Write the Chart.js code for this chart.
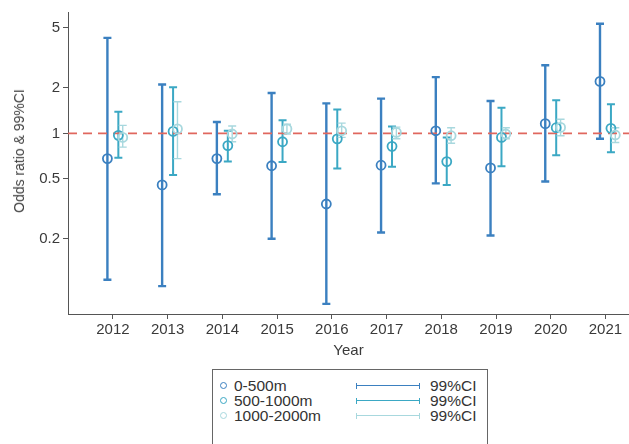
<!DOCTYPE html>
<html>
<head>
<meta charset="utf-8">
<script src="https://cdn.jsdelivr.net/npm/chart.js@4"></script>
<style>
  body { margin: 0; background: #fff; font-family: "Liberation Sans", Arial, sans-serif; }
  #wrap { position: relative; width: 629px; height: 444px; overflow: hidden; }
  #box { position: absolute; left: 0; top: 0; width: 629px; height: 360px; }
  #ytitle { position: absolute; left: 19px; top: 151px; transform: translate(-50%, -50%) rotate(-90deg); white-space: nowrap; font-size: 14px; color: #444; }
  #legend { position: absolute; left: 212px; top: 369px; width: 274px; height: 90px; border: 1px solid #666; }
  .row { position: absolute; left: 0; width: 274px; height: 16px; font-size: 15.5px; color: #333; }
  .dot { position: absolute; left: 7px; top: 4px; width: 5px; height: 5px; border-radius: 50%; border: 1.8px solid; }
  .lab { position: absolute; left: 21px; top: -1px; white-space: nowrap; }
  .bar { position: absolute; left: 143px; top: 5px; width: 62px; height: 6px; border-left: 1.5px solid; border-right: 1.5px solid; }
  .bar::after { content: ""; position: absolute; left: 0; right: 0; top: 2px; border-top: 1.6px solid; border-color: inherit; }
  .ci { position: absolute; left: 217px; top: -1px; }
</style>
</head>
<body>
<div id="wrap">
  <div id="box"><canvas id="chart"></canvas></div>
  <div id="ytitle">Odds ratio &amp; 99%CI</div>
  <div id="legend"></div>
</div>
<script>
const years = [2012, 2013, 2014, 2015, 2016, 2017, 2018, 2019, 2020, 2021];
const yTicks = [0.2, 0.5, 1, 2, 5];
const seriesNames = ['0-500m', '500-1000m', '1000-2000m'];

// 0-500m
const or1 = [0.68, 0.455, 0.68, 0.61, 0.34, 0.615, 1.04, 0.59, 1.16, 2.21];
const lo1 = [0.107, 0.097, 0.395, 0.20, 0.074, 0.22, 0.466, 0.21, 0.48, 0.92];
const hi1 = [4.3, 2.11, 1.19, 1.85, 1.58, 1.70, 2.36, 1.64, 2.83, 5.33];
// 500-1000m
const or2 = [0.97, 1.03, 0.83, 0.88, 0.92, 0.82, 0.65, 0.94, 1.09, 1.08];
const lo2 = [0.69, 0.53, 0.65, 0.645, 0.585, 0.60, 0.455, 0.605, 0.715, 0.75];
const hi2 = [1.39, 2.02, 1.04, 1.22, 1.44, 1.11, 0.94, 1.48, 1.66, 1.56];
// 1000-2000m
const or3 = [0.94, 1.07, 0.99, 1.07, 1.04, 1.015, 0.965, 0.99, 1.095, 0.975];
const lo3 = [0.81, 0.68, 0.88, 0.99, 0.94, 0.92, 0.86, 0.92, 0.965, 0.87];
const hi3 = [1.13, 1.62, 1.12, 1.15, 1.17, 1.10, 1.09, 1.09, 1.24, 1.09];

const colors = ['#3b80c0', '#3ba8c4', '#a8d8de'];
const offsets = [-0.1, 0.1, 0.18];
const barWidths = [2.4, 2, 1.4];
const xMin = 2011.18, xMax = 2021.43;

const groups = [[or1, lo1, hi1], [or2, lo2, hi2], [or3, lo3, hi3]];

// error bars drawn under the circles, through the chart scales
const errorBars = {
    id: 'errorBars',
    beforeDatasetsDraw(chart) {
        const { ctx, scales: { x, y } } = chart;
        ctx.save();
        groups.forEach((g, s) => {
            ctx.strokeStyle = colors[s];
            ctx.lineWidth = barWidths[s];
            years.forEach((yr, i) => {
                const px = x.getPixelForValue(yr + offsets[s]);
                const top = y.getPixelForValue(g[2][i]);
                const bot = y.getPixelForValue(g[1][i]);
                ctx.beginPath();
                ctx.moveTo(px, top); ctx.lineTo(px, bot);
                ctx.moveTo(px - 4, top); ctx.lineTo(px + 4, top);
                ctx.moveTo(px - 4, bot); ctx.lineTo(px + 4, bot);
                ctx.stroke();
            });
        });
        ctx.restore();
    }
};

const pointSets = groups.map((g, s) => ({
    type: 'scatter',
    label: seriesNames[s],
    data: years.map((yr, i) => ({ x: yr + offsets[s], y: g[0][i] })),
    borderColor: colors[s],
    backgroundColor: 'rgba(0,0,0,0)',
    borderWidth: 1.8,
    pointRadius: 4.5,
    order: 3 - s
})).reverse();

new Chart(document.getElementById('chart'), {
    type: 'scatter',
    data: {
        datasets: [
            {
                type: 'line',
                data: [{ x: xMin, y: 1 }, { x: xMax, y: 1 }],
                borderColor: '#e0675e',
                borderWidth: 1.8,
                borderDash: [9, 6],
                pointRadius: 0,
                order: 10
            },
            ...pointSets
        ]
    },
    options: {
        responsive: true,
        maintainAspectRatio: false,
        animation: false,
        layout: { autoPadding: false, padding: { top: 8, right: 0, left: 0, bottom: 0 } },
        plugins: { legend: { display: false }, tooltip: { enabled: false } },
        scales: {
            x: {
                type: 'linear',
                min: xMin,
                max: xMax,
                afterBuildTicks: sc => { sc.ticks = years.map(v => ({ value: v })); },
                afterFit: sc => { sc.height = 46; },
                ticks: { color: '#3a3a3a', font: { size: 15, family: 'Liberation Sans' }, padding: 2, maxRotation: 0, callback: v => String(v) },
                grid: { drawOnChartArea: false, drawTicks: true, tickLength: 5, color: '#555' },
                border: { display: true, color: '#555', width: 1 },
                title: { display: true, text: 'Year', color: '#3a3a3a', font: { size: 15, family: 'Liberation Sans' }, padding: 0 }
            },
            y: {
                type: 'logarithmic',
                min: 0.0634,
                max: 6.38,
                afterBuildTicks: sc => { sc.ticks = yTicks.map(v => ({ value: v })); },
                afterFit: sc => { sc.width = 68; },
                ticks: { color: '#3a3a3a', font: { size: 15, family: 'Liberation Sans' }, padding: 3, callback: v => String(v) },
                grid: { drawOnChartArea: false, drawTicks: true, tickLength: 5, color: '#555' },
                border: { display: true, color: '#555', width: 1 }
            }
        }
    },
    plugins: [errorBars]
});

// legend
const legend = document.getElementById('legend');
seriesNames.forEach((name, s) => {
    const row = document.createElement('div');
    row.className = 'row';
    row.style.top = (8 + s * 15) + 'px';
    row.innerHTML = `<span class="dot" style="border-color:${colors[s]}"></span>
        <span class="lab">${name}</span>
        <span class="bar" style="border-color:${colors[s]}"></span>
        <span class="ci">99%CI</span>`;
    legend.appendChild(row);
});
</script>
</body>
</html>
